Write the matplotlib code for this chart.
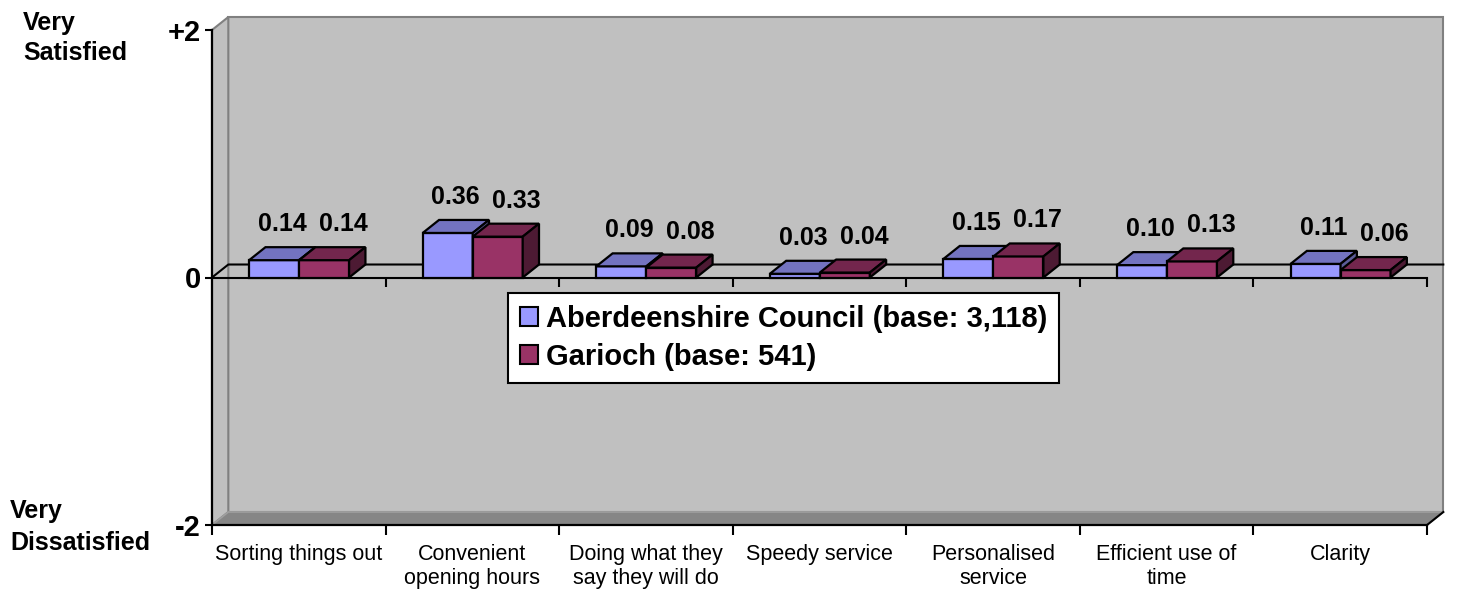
import matplotlib.pyplot as plt
from matplotlib.patches import Polygon, Patch

plt.rcParams['font.family'] = ['Liberation Sans', 'DejaVu Sans']

# -----------------------------
# data
# -----------------------------
categories = ["Sorting things out", "Convenient\nopening hours",
              "Doing what they\nsay they will do", "Speedy service",
              "Personalised\nservice", "Efficient use of\ntime", "Clarity"]
council = [0.14, 0.36, 0.09, 0.03, 0.15, 0.10, 0.11]
garioch = [0.14, 0.33, 0.08, 0.04, 0.17, 0.13, 0.06]
series_names = ["Aberdeenshire Council (base: 3,118)", "Garioch (base: 541)"]
y_ticks = [-2, 0, 2]
y_tick_labels = ["-2", "0", "+2"]

# -----------------------------
# figure / axes (front plane of the 3-D box)
# -----------------------------
W, H = 1458, 589
fig = plt.figure(figsize=(W / 100, H / 100), dpi=100)
ax = fig.add_axes([212 / W, 1 - 525 / H, (1427 - 212) / W, (525 - 30) / H])
n = len(categories)
ymin, ymax = -2, 2
ax.set_xlim(0, n)
ax.set_ylim(ymin, ymax)
ax.patch.set_visible(False)

DX, DY = 0.094, 0.105   # depth offset for the fake 3-D look
BW = 0.288              # bar width
X0 = 0.214              # first bar offset inside a category

# walls and floor
wall_kw = dict(closed=True, clip_on=False, zorder=0)
ax.add_patch(Polygon([(DX, ymin + DY), (n + DX, ymin + DY), (n + DX, ymax + DY), (DX, ymax + DY)],
                     fc='#c0c0c0', ec='#808080', lw=1.5, **wall_kw))
ax.add_patch(Polygon([(0, ymin), (DX, ymin + DY), (DX, ymax + DY), (0, ymax)],
                     fc='#c0c0c0', ec='#808080', lw=1.5, **wall_kw))
ax.add_patch(Polygon([(0, ymin), (n, ymin), (n + DX, ymin + DY), (DX, ymin + DY)],
                     fc='#868686', ec='#a0a0a0', lw=1.2, **wall_kw))
ax.plot([n, n + DX], [ymin, ymin + DY], color='k', lw=1.5, clip_on=False, zorder=1)

# zero plane
ax.plot([0, n], [0, 0], color='k', lw=1.5, clip_on=False, zorder=1)
ax.plot([0, DX, n + DX], [0, DY, DY], color='k', lw=1.5, clip_on=False, zorder=1)
ax.vlines(range(1, n + 1), -0.08, 0, color='k', lw=1.5, clip_on=False, zorder=1)


# -----------------------------
# bars
# -----------------------------
def bars3d(xs, vals, front, top, side, z, label_dx):
    ax.bar(xs, vals, width=BW, align='edge', color=front, edgecolor='k',
           lw=1.6, zorder=z, clip_on=False)
    for x, v in zip(xs, vals):
        ax.add_patch(Polygon([(x, v), (x + BW, v), (x + BW + DX, v + DY), (x + DX, v + DY)],
                             fc=top, ec='k', lw=1.6, clip_on=False, zorder=z))
        ax.add_patch(Polygon([(x + BW, 0), (x + BW + DX, DY), (x + BW + DX, v + DY), (x + BW, v)],
                             fc=side, ec='k', lw=1.6, clip_on=False, zorder=z))
        ax.annotate(f"{v:.2f}", (x + BW / 2, v), xytext=(label_dx, 36),
                    textcoords='offset pixels', ha='center', va='center',
                    fontsize=18, fontweight='bold', zorder=6)


xa = [i + X0 for i in range(n)]
xb = [i + X0 + BW for i in range(n)]
bars3d(xa, council, '#9999ff', '#7373c0', '#5c5c99', 3, 8)
bars3d(xb, garioch, '#993366', '#73264d', '#4d1a33', 4, 19)

# -----------------------------
# axes styling
# -----------------------------
for s in ['top', 'right']:
    ax.spines[s].set_visible(False)
for s in ['left', 'bottom']:
    ax.spines[s].set_color('k')
    ax.spines[s].set_linewidth(1.6)
    ax.spines[s].set_zorder(2)

ax.set_yticks(y_ticks)
ax.set_yticklabels(y_tick_labels, fontsize=21, fontweight='bold')
ax.tick_params(axis='y', direction='out', length=5, width=1.5, pad=3)

ax.set_xticks(range(n + 1))
ax.set_xticklabels([])
ax.set_xticks([i + 0.5 for i in range(n)], minor=True)
ax.set_xticklabels(categories, minor=True, fontsize=15.5, linespacing=1.15)
ax.tick_params(axis='x', which='major', direction='out', length=7, width=1.5)
ax.tick_params(axis='x', which='minor', length=0, pad=14)

# side captions
fig.text(23 / W, 1 - 30 / H, "Very", fontsize=18, fontweight='bold', va='baseline')
fig.text(23 / W, 1 - 60 / H, "Satisfied", fontsize=18, fontweight='bold', va='baseline')
fig.text(10 / W, 1 - 518 / H, "Very", fontsize=18, fontweight='bold', va='baseline')
fig.text(10 / W, 1 - 550 / H, "Dissatisfied", fontsize=18, fontweight='bold', va='baseline')

# legend
handles = [Patch(fc='#9999ff', ec='k', lw=1.5), Patch(fc='#993366', ec='k', lw=1.5)]
leg = fig.legend(handles, series_names, loc='upper left',
                 bbox_to_anchor=(508 / W, 1 - 293 / H), bbox_transform=fig.transFigure,
                 prop=dict(weight='bold', size=21), frameon=True, fancybox=False,
                 edgecolor='k', framealpha=1, handlelength=0.62, handleheight=0.62,
                 handletextpad=0.28, labelspacing=0.35, borderpad=0.4, borderaxespad=0)
leg.get_frame().set_linewidth(1.5)

fig.savefig("out.png", dpi=100)
